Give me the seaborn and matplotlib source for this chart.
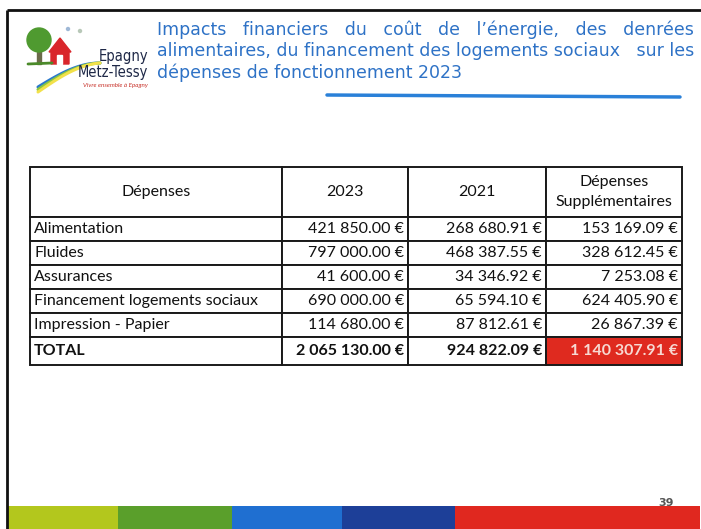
import numpy as np
import matplotlib.pyplot as plt
import seaborn as sns
from matplotlib.patches import Circle, Polygon, Rectangle

sns.set_style("white")
plt.rcParams["font.family"] = ["Lato", "DejaVu Sans"]

# Table data
postes = ["Alimentation", "Fluides", "Assurances",
          "Financement logements sociaux", "Impression - Papier"]
dep_2023 = [421850.00, 797000.00, 41600.00, 690000.00, 114680.00]
dep_2021 = [268680.91, 468387.55, 34346.92, 65594.10, 87812.61]
dep_supp = [153169.09, 328612.45, 7253.08, 624405.90, 26867.39]
totaux = [2065130.00, 924822.09, 1140307.91]
headers = ["Dépenses", "2023", "2021", "Dépenses\nSupplémentaires"]

title_lines = [
    "Impacts   financiers   du   coût   de   l’énergie,   des   denrées",
    "alimentaires, du financement des logements sociaux   sur les",
    "dépenses de fonctionnement 2023",
]

band_colors = ["#b3c71d", "#5a9f2b", "#1f6fd1", "#1d3f98", "#e0281f"]
band_edges = [7, 118, 232, 342, 455, 700]


def eur(v):
    return f"{v:,.2f}".replace(",", " ") + " €"


fig = plt.figure(figsize=(7.01, 5.29), dpi=100)
ax = fig.add_axes([0, 0, 1, 1])
ax.set_xlim(0, 701)
ax.set_ylim(529, 0)
ax.axis("off")

# slide frame
ax.plot([7, 701], [10, 10], color="#111", lw=2, solid_capstyle="butt")
ax.plot([7, 7], [10, 529], color="#111", lw=2, solid_capstyle="butt")

# logo
ax.add_patch(Rectangle((37, 48), 4, 16, color="#6b6b4a"))
ax.plot([28, 52], [64, 63], color="#4b8a2a", lw=2)
ax.add_patch(Circle((39, 40), 12, color="#4f9a30"))
ax.add_patch(Polygon([[49, 52], [60, 38], [71, 52], [69, 52], [69, 64], [51, 64], [51, 52]],
                     closed=True, color="#d9262b"))
ax.add_patch(Rectangle((57, 55), 5, 9, color="white"))
t = np.linspace(0, 1, 50)
for off, col in zip([0, 2.5, 5], ["#2a79cc", "#8cc63f", "#f2e14a"]):
    ax.plot(38 + 62 * t, 84 - 24 * np.sin(t * np.pi / 2) + off * (1 - t) + 3, color=col, lw=2.2)
ax.add_patch(Circle((68, 29), 1.5, color="#9fb8d6"))
ax.add_patch(Circle((80, 31), 1.5, color="#b8c8b8"))
ax.text(148, 57, "Epagny", ha="right", va="center", fontsize=10.5,
        family="DejaVu Sans", fontstretch="condensed", color="#1e2847")
ax.text(148, 72, "Metz-Tessy", ha="right", va="center", fontsize=10.5,
        family="DejaVu Sans", fontstretch="condensed", color="#1e2847")
ax.text(148, 86, "Vivre ensemble à Epagny", ha="right", va="center", fontsize=4.5,
        style="italic", color="#c8322a")

# title
for i, line in enumerate(title_lines):
    ax.text(157, 30 + 21.5 * i, line, ha="left", va="center", fontsize=12.5,
            family="DejaVu Sans", color="#2e72c6")
ax.plot([327, 680], [95, 97], color="#2a80d8", lw=2.5)

# table
rows = [[p, eur(a), eur(b), eur(c)] for p, a, b, c in zip(postes, dep_2023, dep_2021, dep_supp)]
rows.append(["TOTAL"] + [eur(v) for v in totaux])
col_px = [252, 126, 138, 136]
x0, y_top, y_bot = 30, 167, 365
tab = ax.table(cellText=rows, colLabels=headers, colWidths=col_px, cellLoc="right",
               bbox=[x0 / 701, 1 - y_bot / 529, sum(col_px) / 701, (y_bot - y_top) / 529])
tab.auto_set_font_size(False)
tab.set_fontsize(11.5)
n_rows = len(rows)
for (r, c), cell in tab.get_celld().items():
    cell.set_linewidth(1.4)
    cell.set_edgecolor("#1a1a1a")
    cell.PAD = 4 / col_px[c]
    cell.set_height(50 if r == 0 else (28 if r == n_rows else 24))
    txt = cell.get_text()
    txt.set_color("#111111")
    if r == 0:
        cell._loc = "center"
        txt.set_ha("center")
        txt.set_linespacing(1.55)
    elif c == 0:
        cell._loc = "left"
        txt.set_ha("left")
    if r == n_rows:
        txt.set_fontweight("bold")
        if c == 3:
            cell.set_facecolor("#df2a1f")
            txt.set_color("#f7d9d2")

# bottom colour bands
ax.barh(y=[517] * len(band_colors), width=np.diff(band_edges), left=band_edges[:-1],
        height=23, color=band_colors, linewidth=0)
ax.text(666, 503, "39", ha="center", va="center", fontsize=8, fontweight="bold",
        color="#555", family="DejaVu Sans")

fig.savefig("out.png", dpi=100)
